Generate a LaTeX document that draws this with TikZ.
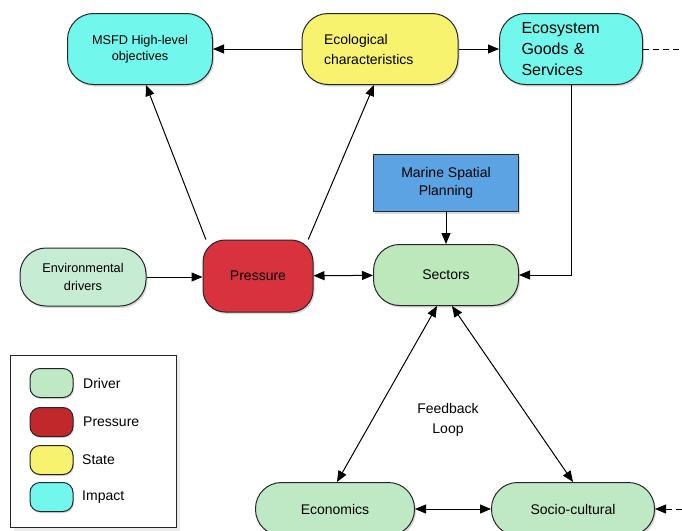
\documentclass[tikz,border=0pt]{standalone}
\usepackage{fontspec}
\setmainfont{Liberation Sans}
\usetikzlibrary{arrows.meta,shadows}
\definecolor{drivergreen}{HTML}{BFE8C4}
\definecolor{envgreen}{HTML}{C6ECD4}
\definecolor{sectgreen}{HTML}{BCE8BC}
\definecolor{pressred}{HTML}{D8323E}
\definecolor{legred}{HTML}{C0282C}
\definecolor{stateyellow}{HTML}{F8F36E}
\definecolor{impactcyan}{HTML}{72F7EC}
\definecolor{mspblue}{HTML}{5BA3E3}
\tikzset{
    box/.style={draw=black!85,line width=1pt,rounded corners=26pt,inner sep=0pt,
        drop shadow={shadow xshift=1.5pt,shadow yshift=-2pt,opacity=0.3},
        font=\fontsize{14}{20}\selectfont},
    legswatch/.style={draw=black!85,line width=1pt,rounded corners=10pt,
        minimum width=43pt,minimum height=29pt,
        drop shadow={shadow xshift=1pt,shadow yshift=-1.5pt,opacity=0.3}},
    leglabel/.style={anchor=west,inner sep=0pt,font=\fontsize{14}{20}\selectfont},
    arr/.style={-{Triangle[length=11pt,width=9pt]},line width=1pt},
    dblarr/.style={{Triangle[length=11pt,width=9pt]}-{Triangle[length=11pt,width=9pt]},line width=1pt},
}
\begin{document}
\begin{tikzpicture}[x=1pt,y=-1pt]
    \clip (0,0) rectangle (682,530);

    % top row: state and impact
    \draw (140,49) node(msfd)[box,fill=impactcyan,minimum width=145pt,minimum height=71pt,
                align=center,font=\fontsize{12.7}{16}\selectfont] {MSFD High-level\\objectives}
        (380,49) node(eco)[box,fill=stateyellow,minimum width=156pt,minimum height=71pt,
                text width=112pt,align=left] {Ecological\\characteristics}
        (571,49) node(esg)[box,fill=impactcyan,minimum width=143pt,minimum height=71pt,
                text width=99pt,align=left,font=\fontsize{16}{21}\selectfont] {Ecosystem\\Goods \&\\Services};

    % middle row: drivers, pressure, sectors
    \draw (83,277) node(env)[box,fill=envgreen,minimum width=126pt,minimum height=58pt,
                align=center,font=\fontsize{12.7}{18}\selectfont] {Environmental\\drivers}
        (258,276) node(pres)[box,fill=pressred,rounded corners=22pt,minimum width=110pt,minimum height=72pt] {Pressure}
        (446,275) node(sect)[box,fill=sectgreen,minimum width=145pt,minimum height=61pt] {Sectors}
        (446,183) node(msp)[box,rounded corners=0pt,fill=mspblue,minimum width=145pt,minimum height=57pt,
                align=center,font=\fontsize{14}{18}\selectfont] {Marine Spatial\\Planning};

    % bottom row
    \draw (335,509) node(econ)[box,fill=drivergreen,minimum width=159pt,minimum height=53pt] {Economics}
        (573,509) node(socio)[box,fill=drivergreen,minimum width=163pt,minimum height=53pt] {Socio-cultural}
        (448,420) node(loop)[align=center,font=\fontsize{14}{20}\selectfont] {Feedback\\Loop};

    \coordinate (esgout) at (682,49);
    \coordinate (socioin) at (682,509);

    % connectors
    \draw[arr] (eco) -- (msfd);
    \draw[arr] (eco) -- (esg);
    \draw[line width=1pt,dash pattern=on 6pt off 4pt] (esg.east) -- (esgout);
    \draw[arr] (env.east) -- (env.east -| pres.west);
    \draw[dblarr] (pres) -- (sect);
    \draw[arr] (pres.145) -- ([xshift=6pt]msfd.south);
    \draw[arr] (pres.36) -- ([xshift=-6pt]eco.south);
    \draw[arr] (esg.south) |- (sect.east);
    \draw[arr] (msp) -- (sect);
    \draw[dblarr] ([xshift=-9pt]sect.south) -- ([xshift=2pt]econ.north);
    \draw[dblarr] ([xshift=6pt]sect.south) -- (socio.north);
    \draw[dblarr] (econ) -- (socio);
    \draw[arr,dash pattern=on 6pt off 4pt] (socioin) -- (socio.east);

    % legend
    \node(legend)[draw=black!85,fill=white,line width=1pt,minimum width=166pt,minimum height=172pt,inner sep=0pt,
        drop shadow={shadow xshift=4pt,shadow yshift=-4pt,opacity=0.15}] at (93,441) {};
    \draw (51.5,383) node(ldriver)[legswatch,fill=drivergreen] {}
        (51.5,422) node(lpres)[legswatch,fill=legred] {}
        (51.5,460) node(lstate)[legswatch,fill=stateyellow] {}
        (51.5,497) node(limpact)[legswatch,fill=impactcyan] {}
        (83,383) node(tdriver)[leglabel] {Driver}
        (83,422) node(tpres)[leglabel] {Pressure}
        (82,460) node(tstate)[leglabel] {State}
        (82,497) node(timpact)[leglabel] {Impact};
\end{tikzpicture}
\end{document}
